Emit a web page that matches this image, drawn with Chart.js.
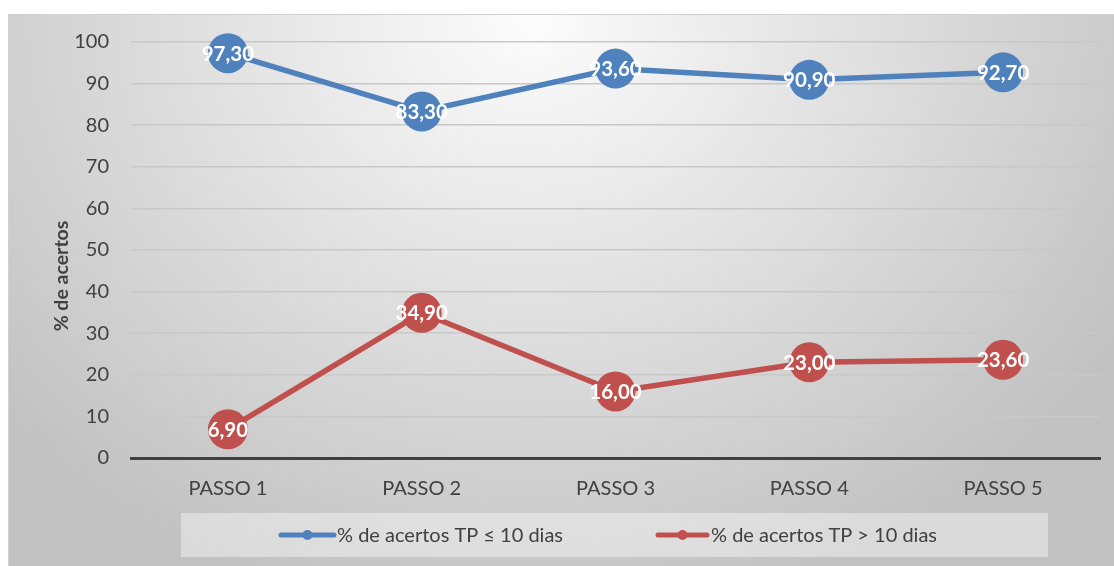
<!DOCTYPE html>
<html>
<head>
<meta charset="utf-8">
<script src="https://cdn.jsdelivr.net/npm/chart.js@4.4.1/dist/chart.umd.min.js"></script>
<style>
  html, body { margin: 0; padding: 0; background: #fff; }
  #wrap { width: 1114px; height: 566px; position: relative; }
</style>
</head>
<body>
<div id="wrap"><canvas id="chart" width="1114" height="566"></canvas></div>
<script>
const categories = ["PASSO 1", "PASSO 2", "PASSO 3", "PASSO 4", "PASSO 5"];
const seriesNames = ["% de acertos TP ≤ 10 dias", "% de acertos TP > 10 dias"];
const acertosAte10 = [97.3, 83.3, 93.6, 90.9, 92.7];
const acertosMais10 = [6.9, 34.9, 16.0, 23.0, 23.6];
const yTicks = [0, 10, 20, 30, 40, 50, 60, 70, 80, 90, 100];
const yTitle = "% de acertos";

const FONT = "Lato, 'Open Sans', sans-serif";
const BLUE = "#4f81bd";
const RED = "#c0504d";

// fundo com gradiente e borda do painel
const backgroundPlugin = {
  id: "panelBg",
  beforeDraw(chart) {
    const c = chart.ctx;
    c.save();
    c.fillStyle = "#ffffff";
    c.fillRect(0, 0, chart.width, chart.height);
    c.translate(530, 20);
    c.scale(1.15, 1);
    const g = c.createRadialGradient(0, 0, 0, 0, 0, 600);
    g.addColorStop(0, "#fcfcfc");
    g.addColorStop(1, "#c2c2c2");
    c.fillStyle = g;
    c.fillRect((8 - 530) / 1.15, -6, 1200, 560);
    c.restore();
    c.save();
    c.strokeStyle = "#d0d0d0";
    c.lineWidth = 1;
    c.beginPath();
    c.moveTo(8.5, chart.height);
    c.lineTo(8.5, 14.5);
    c.lineTo(chart.width, 14.5);
    c.stroke();
    c.restore();
  },
};

// título do eixo Y, rótulos de dados e legenda
const overlayPlugin = {
  id: "overlay",
  afterDraw(chart) {
    const c = chart.ctx;
    c.save();
    c.translate(62, 276);
    c.rotate(-Math.PI / 2);
    c.font = "bold 19.5px " + FONT;
    c.fillStyle = "#404040";
    c.textAlign = "center";
    c.textBaseline = "middle";
    c.fillText(yTitle, 0, 0);
    c.restore();

    // rótulos de dados
    c.save();
    c.font = "bold 20.5px " + FONT;
    c.fillStyle = "#ffffff";
    c.textAlign = "center";
    c.textBaseline = "middle";
    chart.data.datasets.forEach((ds, i) => {
      const meta = chart.getDatasetMeta(i);
      meta.data.forEach((pt, j) => {
        c.fillText(ds.data[j].toFixed(2).replace(".", ","), pt.x, pt.y + 1);
      });
    });
    c.restore();

    // legenda
    c.save();
    c.fillStyle = "rgba(255,255,255,0.4)";
    c.fillRect(181, 513, 867, 44);
    const items = [
      { x0: 281, x1: 334, tx: 337, color: BLUE },
      { x0: 658, x1: 707, tx: 711, color: RED },
    ];
    items.forEach((it, i) => {
      c.strokeStyle = it.color;
      c.lineWidth = 5;
      c.lineCap = "round";
      c.beginPath();
      c.moveTo(it.x0, 535);
      c.lineTo(it.x1, 535);
      c.stroke();
      c.fillStyle = it.color;
      c.beginPath();
      c.arc((it.x0 + it.x1) / 2, 535, 5, 0, Math.PI * 2);
      c.fill();
      c.font = "20px " + FONT;
      c.fillStyle = "#404040";
      c.textAlign = "left";
      c.textBaseline = "middle";
      c.fillText(seriesNames[i], it.tx, 536);
    });
    c.restore();
  },
};

const ctx = document.getElementById("chart").getContext("2d");
new Chart(ctx, {
  type: "line",
  data: {
    labels: categories,
    datasets: [
      {
        label: seriesNames[0],
        data: acertosAte10,
        borderColor: BLUE,
        backgroundColor: BLUE,
        borderWidth: 5.5,
        pointRadius: 20,
        pointHoverRadius: 20,
        pointBorderWidth: 0,
        clip: false,
      },
      {
        label: seriesNames[1],
        data: acertosMais10,
        borderColor: RED,
        backgroundColor: RED,
        borderWidth: 5.5,
        pointRadius: 20,
        pointHoverRadius: 20,
        pointBorderWidth: 0,
        clip: false,
      },
    ],
  },
  options: {
    responsive: false,
    animation: false,
    events: [],
    layout: { autoPadding: false, padding: { left: 0, right: 14, top: 42, bottom: 0 } },
    plugins: {
      legend: { display: false },
      tooltip: { enabled: false },
    },
    scales: {
      x: {
        offset: true,
        grid: { display: false, drawTicks: false },
        border: { display: true, color: "#404040", width: 3 },
        ticks: {
          padding: 19,
          color: "#404040",
          font: { family: FONT, size: 20 },
        },
        afterFit: (s) => { s.height = 108; },
      },
      y: {
        min: 0,
        max: 100,
        afterBuildTicks: (s) => { s.ticks = yTicks.map((v) => ({ value: v })); },
        grid: {
          drawTicks: false,
          color: (c) => (c.tick && c.tick.value === 0 ? "rgba(0,0,0,0)" : "#c8c8c8"),
          lineWidth: 1.5,
        },
        border: { display: false },
        ticks: {
          padding: 22,
          color: "#404040",
          font: { family: FONT, size: 20 },
        },
        afterFit: (s) => { s.width = 131; },
      },
    },
  },
  plugins: [backgroundPlugin, overlayPlugin],
});
</script>
</body>
</html>
